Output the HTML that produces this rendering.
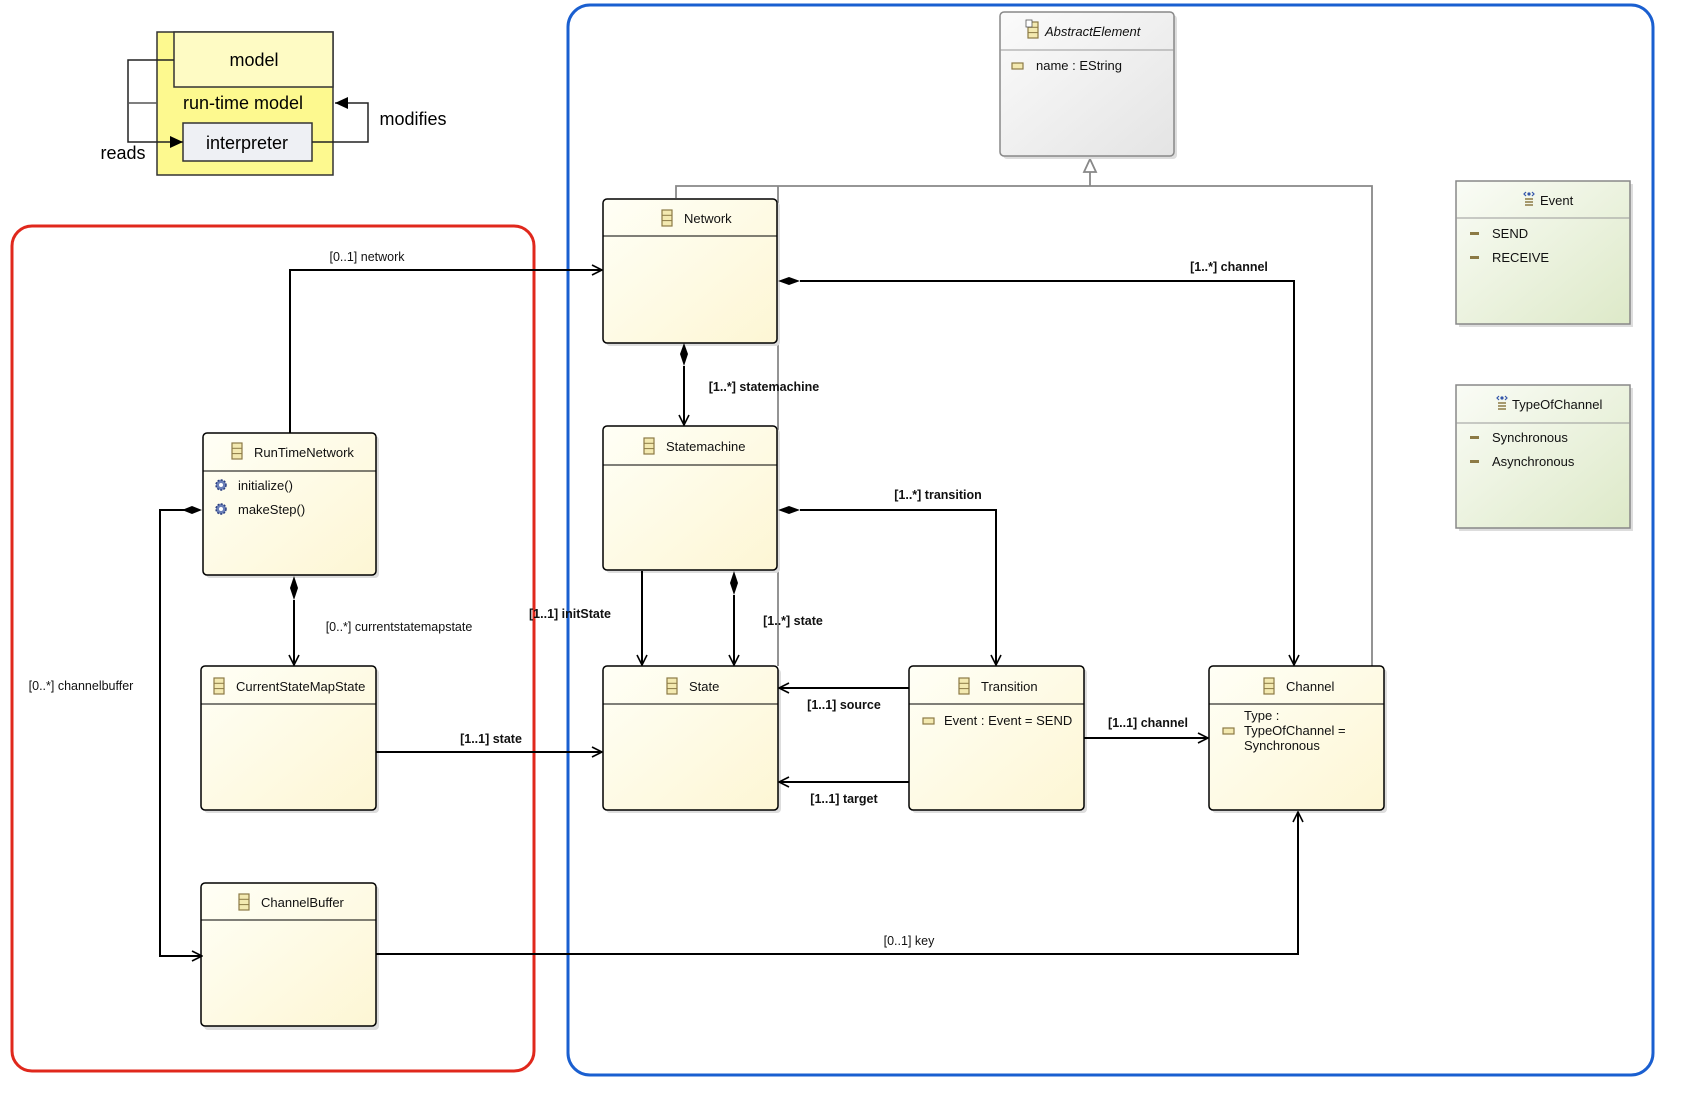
<!DOCTYPE html>
<html><head><meta charset="utf-8"><style>
html,body{margin:0;padding:0;background:#fff;}
svg{display:block;font-family:"Liberation Sans",sans-serif;}
.t{font-size:13px;fill:#111;}
.b{font-size:12.5px;font-weight:bold;fill:#111;}
.l{font-size:12.5px;fill:#111;}
</style></head><body>
<svg width="1692" height="1100" viewBox="0 0 1692 1100" xmlns="http://www.w3.org/2000/svg">
<defs>
<linearGradient id="cy" x1="0" y1="0" x2="1" y2="1"><stop offset="0" stop-color="#fffff6"/><stop offset="1" stop-color="#fdf6d4"/></linearGradient>
<linearGradient id="cg" x1="0" y1="0" x2="1" y2="1"><stop offset="0" stop-color="#fbfbfb"/><stop offset="1" stop-color="#e4e4e4"/></linearGradient>
<linearGradient id="cgr" x1="0" y1="0" x2="1" y2="1"><stop offset="0" stop-color="#fafcf6"/><stop offset="1" stop-color="#dde9c8"/></linearGradient>
<marker id="open" markerWidth="12" markerHeight="12" refX="11" refY="6" orient="auto" markerUnits="userSpaceOnUse"><path d="M1,1 L11,6 L1,11" fill="none" stroke="#000" stroke-width="1.6"/></marker>
<marker id="fill" markerWidth="14" markerHeight="12" refX="13" refY="6" orient="auto" markerUnits="userSpaceOnUse"><path d="M0,0 L13,6 L0,12 Z" fill="#000"/></marker>
<g id="ic"><rect x="0" y="0" width="10" height="16" fill="#f3e9b0" stroke="#8c7a45" stroke-width="1.2"/><line x1="0" y1="5.3" x2="10" y2="5.3" stroke="#8c7a45"/><line x1="0" y1="10.6" x2="10" y2="10.6" stroke="#8c7a45"/></g>
<g id="at"><rect x="0" y="0" width="11" height="6" fill="#f3e9b0" stroke="#8c7a45" stroke-width="1.2"/></g>
<g id="gear"><circle cx="6" cy="6" r="5" fill="#6a7fb8" stroke="#2b3f80" stroke-width="1.5" stroke-dasharray="2 1.3"/><circle cx="6" cy="6" r="2" fill="#fff"/></g>
<g id="en"><path d="M2,1 l-2,2 l2,2 M8,1 l2,2 l-2,2" fill="none" stroke="#3355aa" stroke-width="1.2"/><circle cx="5" cy="3" r="1.6" fill="#3355aa"/><line x1="1" y1="8" x2="9" y2="8" stroke="#8c7a45" stroke-width="1.5"/><line x1="1" y1="11" x2="9" y2="11" stroke="#8c7a45" stroke-width="1.5"/><line x1="1" y1="14" x2="9" y2="14" stroke="#8c7a45" stroke-width="1.5"/></g>
</defs>

<!-- legend -->
<rect x="157" y="32" width="176" height="143" fill="#fdf98f" stroke="#333" stroke-width="1.5"/>
<rect x="174" y="32" width="159" height="55" fill="#fefbc4" stroke="#333" stroke-width="1.5"/>
<text x="254" y="66" text-anchor="middle" style="font-size:18px">model</text>
<text x="243" y="109" text-anchor="middle" style="font-size:18px">run-time model</text>
<rect x="183" y="123" width="129" height="38" fill="#eef0f4" stroke="#333" stroke-width="1.5"/>
<text x="247" y="149" text-anchor="middle" style="font-size:18px">interpreter</text>
<polyline points="174,60 128,60 128,142 183,142" fill="none" stroke="#222" stroke-width="1.5" marker-end="url(#fill)"/>
<line x1="128" y1="103" x2="157" y2="103" stroke="#555" stroke-width="1.5"/>
<text x="123" y="159" text-anchor="middle" style="font-size:18px">reads</text>
<polyline points="312,142 368,142 368,103 335,103" fill="none" stroke="#222" stroke-width="1.5" marker-end="url(#fill)"/>
<text x="413" y="125" text-anchor="middle" style="font-size:18px">modifies</text>

<!-- containers -->
<rect x="12" y="226" width="522" height="845" rx="20" fill="none" stroke="#e0281c" stroke-width="3"/>
<rect x="568" y="5" width="1085" height="1070" rx="22" fill="none" stroke="#1a5fd0" stroke-width="3"/>

<!-- generalization lines -->
<g stroke="#888" stroke-width="1.8" fill="none">
<polyline points="676,198 676,186 1372,186 1372,666"/>
<line x1="778" y1="186" x2="778" y2="666"/>
<line x1="1090" y1="186" x2="1090" y2="160"/>
<path d="M1084,172 L1090,159 L1096,172 Z" fill="#fff"/>
</g>

<!-- AbstractElement -->
<rect x="1003" y="15" width="174" height="144" rx="4" fill="#ddd"/>
<rect x="1000" y="12" width="174" height="144" rx="4" fill="url(#cg)" stroke="#888" stroke-width="1.5"/>
<line x1="1000" y1="50" x2="1174" y2="50" stroke="#999"/>
<use href="#ic" x="1028" y="22"/><rect x="1026" y="20" width="6" height="7" fill="#fff" stroke="#555" stroke-width="0.8"/>
<text x="1045" y="36" class="t" style="font-style:italic">AbstractElement</text>
<use href="#at" x="1012" y="63"/>
<text x="1036" y="70" class="t">name : EString</text>

<!-- Enums -->
<rect x="1459" y="184" width="174" height="143" fill="#ddd"/>
<rect x="1456" y="181" width="174" height="143" fill="url(#cgr)" stroke="#888" stroke-width="1.5"/>
<line x1="1456" y1="218" x2="1630" y2="218" stroke="#999"/>
<use href="#en" x="1524" y="191"/>
<text x="1540" y="205" class="t">Event</text>
<rect x="1470" y="232" width="9" height="3" fill="#8c7a45"/><text x="1492" y="238" class="t">SEND</text>
<rect x="1470" y="256" width="9" height="3" fill="#8c7a45"/><text x="1492" y="262" class="t">RECEIVE</text>

<rect x="1459" y="388" width="174" height="143" fill="#ddd"/>
<rect x="1456" y="385" width="174" height="143" fill="url(#cgr)" stroke="#888" stroke-width="1.5"/>
<line x1="1456" y1="423" x2="1630" y2="423" stroke="#999"/>
<use href="#en" x="1497" y="395"/>
<text x="1512" y="409" class="t">TypeOfChannel</text>
<rect x="1470" y="436" width="9" height="3" fill="#8c7a45"/><text x="1492" y="442" class="t">Synchronous</text>
<rect x="1470" y="460" width="9" height="3" fill="#8c7a45"/><text x="1492" y="466" class="t">Asynchronous</text>

<!-- class boxes -->
<g>
<!-- Network -->
<rect x="606" y="202" width="174" height="144" rx="4" fill="#ddd"/>
<rect x="603" y="199" width="174" height="144" rx="4" fill="url(#cy)" stroke="#000" stroke-width="1.5"/>
<line x1="603" y1="236" x2="777" y2="236" stroke="#000"/>
<use href="#ic" x="662" y="210"/><text x="684" y="223" class="t">Network</text>
<!-- Statemachine -->
<rect x="606" y="429" width="174" height="144" rx="4" fill="#ddd"/>
<rect x="603" y="426" width="174" height="144" rx="4" fill="url(#cy)" stroke="#000" stroke-width="1.5"/>
<line x1="603" y1="465" x2="777" y2="465" stroke="#000"/>
<use href="#ic" x="644" y="438"/><text x="666" y="451" class="t">Statemachine</text>
<!-- State -->
<rect x="606" y="669" width="175" height="144" rx="4" fill="#ddd"/>
<rect x="603" y="666" width="175" height="144" rx="4" fill="url(#cy)" stroke="#000" stroke-width="1.5"/>
<line x1="603" y1="704" x2="778" y2="704" stroke="#000"/>
<use href="#ic" x="667" y="678"/><text x="689" y="691" class="t">State</text>
<!-- Transition -->
<rect x="912" y="669" width="175" height="144" rx="4" fill="#ddd"/>
<rect x="909" y="666" width="175" height="144" rx="4" fill="url(#cy)" stroke="#000" stroke-width="1.5"/>
<line x1="909" y1="704" x2="1084" y2="704" stroke="#000"/>
<use href="#ic" x="959" y="678"/><text x="981" y="691" class="t">Transition</text>
<use href="#at" x="923" y="718"/><text x="944" y="725" class="t">Event : Event = SEND</text>
<!-- Channel -->
<rect x="1212" y="669" width="175" height="144" rx="4" fill="#ddd"/>
<rect x="1209" y="666" width="175" height="144" rx="4" fill="url(#cy)" stroke="#000" stroke-width="1.5"/>
<line x1="1209" y1="704" x2="1384" y2="704" stroke="#000"/>
<use href="#ic" x="1264" y="678"/><text x="1286" y="691" class="t">Channel</text>
<use href="#at" x="1223" y="728"/>
<text x="1244" y="720" class="t">Type :</text>
<text x="1244" y="735" class="t">TypeOfChannel =</text>
<text x="1244" y="750" class="t">Synchronous</text>
<!-- RunTimeNetwork -->
<rect x="206" y="436" width="173" height="142" rx="4" fill="#ddd"/>
<rect x="203" y="433" width="173" height="142" rx="4" fill="url(#cy)" stroke="#000" stroke-width="1.5"/>
<line x1="203" y1="471" x2="376" y2="471" stroke="#000"/>
<use href="#ic" x="232" y="443"/><text x="254" y="457" class="t">RunTimeNetwork</text>
<use href="#gear" x="215" y="479"/><text x="238" y="490" class="t">initialize()</text>
<use href="#gear" x="215" y="503"/><text x="238" y="514" class="t">makeStep()</text>
<!-- CurrentStateMapState -->
<rect x="204" y="669" width="175" height="144" rx="4" fill="#ddd"/>
<rect x="201" y="666" width="175" height="144" rx="4" fill="url(#cy)" stroke="#000" stroke-width="1.5"/>
<line x1="201" y1="704" x2="376" y2="704" stroke="#000"/>
<use href="#ic" x="214" y="678"/><text x="236" y="691" class="t">CurrentStateMapState</text>
<!-- ChannelBuffer -->
<rect x="204" y="886" width="175" height="144" rx="4" fill="#ddd"/>
<rect x="201" y="883" width="175" height="143" rx="4" fill="url(#cy)" stroke="#000" stroke-width="1.5"/>
<line x1="201" y1="920" x2="376" y2="920" stroke="#000"/>
<use href="#ic" x="239" y="894"/><text x="261" y="907" class="t">ChannelBuffer</text>
</g>

<!-- connectors -->
<g stroke="#000" stroke-width="2" fill="none">
<polyline points="290,433 290,270 602,270" marker-end="url(#open)"/>
<polyline points="800,281 1294,281 1294,665" marker-end="url(#open)"/>
<line x1="684" y1="366" x2="684" y2="425" marker-end="url(#open)"/>
<polyline points="800,510 996,510 996,665" marker-end="url(#open)"/>
<line x1="642" y1="571" x2="642" y2="665" marker-end="url(#open)"/>
<line x1="734" y1="595" x2="734" y2="665" marker-end="url(#open)"/>
<line x1="909" y1="688" x2="779" y2="688" marker-end="url(#open)"/>
<line x1="909" y1="782" x2="779" y2="782" marker-end="url(#open)"/>
<line x1="1084" y1="738" x2="1208" y2="738" marker-end="url(#open)"/>
<line x1="376" y1="752" x2="602" y2="752" marker-end="url(#open)"/>
<line x1="294" y1="600" x2="294" y2="665" marker-end="url(#open)"/>
<polyline points="192,510 160,510 160,956 202,956" marker-end="url(#open)"/>
<polyline points="376,954 1298,954 1298,812" marker-end="url(#open)"/>
</g>
<g fill="#000">
<path d="M778,281 L789,277 L800,281 L789,285 Z"/>
<path d="M778,510 L789,506 L800,510 L789,514 Z"/>
<path d="M684,343 L688,354 L684,366 L680,354 Z"/>
<path d="M734,571 L738,583 L734,595 L730,583 Z"/>
<path d="M294,576 L298,588 L294,600 L290,588 Z"/>
<path d="M202,510 L192,506 L182,510 L192,514 Z"/>
</g>

<!-- labels -->
<text x="367" y="261" text-anchor="middle" class="l">[0..1] network</text>
<text x="1229" y="271" text-anchor="middle" class="b">[1..*] channel</text>
<text x="764" y="391" text-anchor="middle" class="b">[1..*] statemachine</text>
<text x="938" y="499" text-anchor="middle" class="b">[1..*] transition</text>
<text x="570" y="618" text-anchor="middle" class="b">[1..1] initState</text>
<text x="793" y="625" text-anchor="middle" class="b">[1..*] state</text>
<text x="844" y="709" text-anchor="middle" class="b">[1..1] source</text>
<text x="844" y="803" text-anchor="middle" class="b">[1..1] target</text>
<text x="1148" y="727" text-anchor="middle" class="b">[1..1] channel</text>
<text x="491" y="743" text-anchor="middle" class="b">[1..1] state</text>
<text x="399" y="631" text-anchor="middle" class="l">[0..*] currentstatemapstate</text>
<text x="81" y="690" text-anchor="middle" class="l">[0..*] channelbuffer</text>
<text x="909" y="945" text-anchor="middle" class="l">[0..1] key</text>
</svg>
</body></html>
